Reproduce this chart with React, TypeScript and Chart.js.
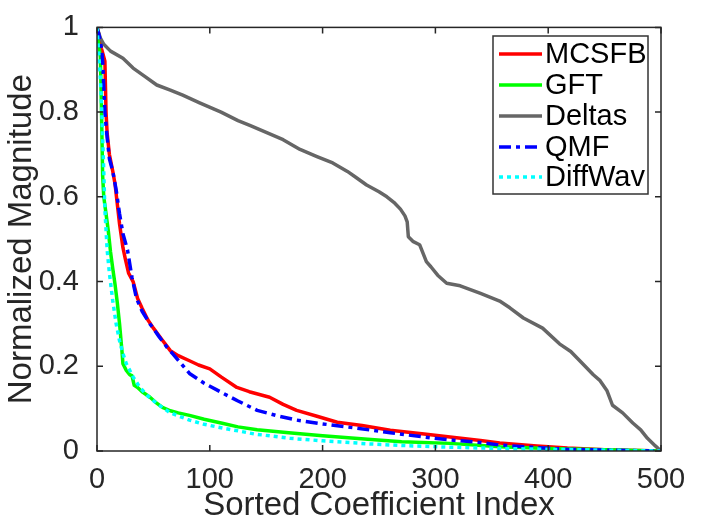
import React, { useEffect, useRef } from "react";
import { Chart, registerables } from "chart.js";

Chart.register(...registerables);

// ---- Data ----
const seriesNames = ["MCSFB", "GFT", "Deltas", "QMF", "DiffWav"];

const mcsfbX = [0, 2, 4, 6, 7, 8, 9, 11, 14, 16, 20, 23, 25, 28, 32, 36, 40, 45, 50, 57, 65, 72, 82, 90, 100, 110, 124, 135, 153, 165, 177, 195, 213, 235, 260, 290, 313, 340, 357, 390, 417, 450, 480, 500];
const mcsfbY = [1, 0.98, 0.95, 0.93, 0.92, 0.8, 0.75, 0.7, 0.66, 0.63, 0.536, 0.48, 0.455, 0.42, 0.4, 0.36, 0.337, 0.31, 0.29, 0.265, 0.237, 0.225, 0.213, 0.203, 0.194, 0.175, 0.15, 0.14, 0.127, 0.11, 0.096, 0.082, 0.068, 0.06, 0.049, 0.04, 0.033, 0.025, 0.019, 0.012, 0.007, 0.003, 0.001, 0];

const gftX = [0, 1, 2, 3, 4, 5, 6, 8, 10, 12, 14, 16, 18, 20, 22, 23, 26, 29, 31, 33, 36, 40, 47, 52, 58, 65, 72, 82, 95, 112, 125, 142, 170, 200, 240, 270, 313, 357, 400, 450, 500];
const gftY = [1, 0.97, 0.95, 0.93, 0.8, 0.65, 0.6, 0.56, 0.52, 0.47, 0.43, 0.393, 0.35, 0.3, 0.24, 0.206, 0.19, 0.18, 0.178, 0.155, 0.15, 0.14, 0.127, 0.115, 0.103, 0.095, 0.09, 0.084, 0.075, 0.065, 0.057, 0.05, 0.043, 0.036, 0.028, 0.022, 0.018, 0.01, 0.006, 0.003, 0];

const deltasX = [0, 3, 6, 12, 23, 32, 42, 53, 65, 76, 91, 110, 125, 136, 150, 165, 180, 195, 209, 222, 230, 239, 250, 257, 264, 269, 273, 275, 276, 280, 286, 292, 296, 302, 310, 322, 340, 357, 366, 378, 395, 410, 420, 428, 440, 446, 452, 457, 466, 475, 482, 488, 495, 500];
const deltasY = [1, 0.975, 0.96, 0.944, 0.927, 0.904, 0.885, 0.864, 0.852, 0.84, 0.822, 0.8, 0.78, 0.768, 0.752, 0.735, 0.712, 0.695, 0.68, 0.66, 0.645, 0.628, 0.612, 0.6, 0.585, 0.571, 0.555, 0.541, 0.506, 0.495, 0.487, 0.447, 0.435, 0.415, 0.396, 0.39, 0.372, 0.354, 0.338, 0.314, 0.29, 0.253, 0.235, 0.213, 0.18, 0.166, 0.143, 0.108, 0.09, 0.066, 0.05, 0.03, 0.012, 0];

const qmfX = [0, 2, 4, 5, 7, 9, 11, 14, 17, 20, 23, 27, 31, 35, 40, 47, 55, 62, 67, 75, 82, 95, 112, 125, 142, 160, 177, 200, 230, 260, 290, 313, 340, 357, 390, 417, 450, 500];
const qmfY = [1, 0.98, 0.95, 0.92, 0.8, 0.74, 0.69, 0.66, 0.616, 0.56, 0.513, 0.475, 0.41, 0.36, 0.33, 0.3, 0.27, 0.245, 0.23, 0.205, 0.183, 0.16, 0.136, 0.118, 0.096, 0.083, 0.073, 0.064, 0.054, 0.043, 0.033, 0.026, 0.02, 0.014, 0.008, 0.004, 0.002, 0];

const diffWavX = [0, 1, 2, 3, 4, 5, 6, 7, 9, 11, 14, 17, 20, 23, 26, 32, 38, 45, 53, 65, 82, 95, 112, 140, 171, 200, 240, 270, 313, 357, 400, 450, 500];
const diffWavY = [1, 0.96, 0.92, 0.88, 0.82, 0.74, 0.66, 0.57, 0.475, 0.42, 0.354, 0.3, 0.26, 0.23, 0.206, 0.175, 0.15, 0.13, 0.112, 0.09, 0.073, 0.063, 0.054, 0.04, 0.03, 0.024, 0.017, 0.013, 0.009, 0.006, 0.004, 0.002, 0];

const xTicks = [0, 100, 200, 300, 400, 500];
const yTicks = [0, 0.2, 0.4, 0.6, 0.8, 1];
const yTickLabels = ["0", "0.2", "0.4", "0.6", "0.8", "1"];
const xTickLabels = ["0", "100", "200", "300", "400", "500"];

const FONT = "'Liberation Sans', Arial, Helvetica, sans-serif";
const AXIS_COLOR = "#262626";

function pts(xs: number[], ys: number[]) {
  return xs.map((x, i) => ({ x, y: ys[i] }));
}

const boxPlugin = {
  id: "matlabBox",
  afterDatasetsDraw(chart: any) {
    const { ctx, chartArea } = chart;
    const { left, right, top, bottom } = chartArea;
    const xs = chart.scales.x;
    const ys = chart.scales.y;
    ctx.save();
    ctx.strokeStyle = AXIS_COLOR;
    ctx.lineWidth = 1.5;
    ctx.strokeRect(left, top, right - left, bottom - top);
    const tl = 6;
    ctx.beginPath();
    xTicks.forEach((v) => {
      const px = xs.getPixelForValue(v);
      ctx.moveTo(px, bottom);
      ctx.lineTo(px, bottom - tl);
      ctx.moveTo(px, top);
      ctx.lineTo(px, top + tl);
    });
    yTicks.forEach((v) => {
      const py = ys.getPixelForValue(v);
      ctx.moveTo(left, py);
      ctx.lineTo(left + tl, py);
      ctx.moveTo(right, py);
      ctx.lineTo(right - tl, py);
    });
    ctx.stroke();

    // legend
    const bx = 493, by = 36, bw = 155, bh = 158;
    ctx.fillStyle = "#ffffff";
    ctx.fillRect(bx, by, bw, bh);
    ctx.strokeStyle = "#333333";
    ctx.lineWidth = 1.5;
    ctx.strokeRect(bx, by, bw, bh);
    const rowY = [54, 85, 116, 147, 177];
    chart.data.datasets.forEach((ds: any, i: number) => {
      const y = rowY[i];
      ctx.save();
      ctx.strokeStyle = ds.borderColor;
      ctx.lineWidth = ds.borderWidth;
      ctx.setLineDash(ds.borderDash || []);
      ctx.lineCap = "butt";
      ctx.beginPath();
      ctx.moveTo(499, y);
      ctx.lineTo(542, y);
      ctx.stroke();
      ctx.restore();
      ctx.fillStyle = "#000000";
      ctx.font = `29px ${FONT}`;
      ctx.textBaseline = "middle";
      ctx.textAlign = "left";
      ctx.fillText(ds.label, 545, y + 1);
    });
    ctx.restore();
  },
};

export default function App() {
  const ref = useRef<HTMLCanvasElement | null>(null);
  useEffect(() => {
    document.body.style.margin = "0";
    const canvas = ref.current;
    if (!canvas) return;
    const mk = (i: number, xs: number[], ys: number[], color: string, dash: number[], order: number) => ({
      label: seriesNames[i],
      data: pts(xs, ys),
      borderColor: color,
      backgroundColor: color,
      borderWidth: 3.5,
      borderDash: dash,
      borderCapStyle: "butt",
      borderJoinStyle: "round",
      pointRadius: 0,
      tension: 0,
      fill: false,
      order,
    });
    const chart = new Chart(canvas, {
      type: "line",
      data: {
        datasets: [
          mk(0, mcsfbX, mcsfbY, "#ff0000", [], 5),
          mk(1, gftX, gftY, "#00ff00", [], 4),
          mk(2, deltasX, deltasY, "#666666", [], 3),
          mk(3, qmfX, qmfY, "#0000ff", [12, 5, 4, 5], 2),
          mk(4, diffWavX, diffWavY, "#00ffff", [4, 4], 1),
        ] as any,
      },
      options: {
        animation: false,
        responsive: false,
        maintainAspectRatio: false,
        layout: { padding: { left: 0, top: 24, right: 53, bottom: 0 } },
        plugins: { legend: { display: false }, tooltip: { enabled: false } },
        scales: {
          x: {
            type: "linear",
            min: 0,
            max: 500,
            afterFit: (s: any) => { s.height = 79; },
            afterBuildTicks: (s: any) => { s.ticks = xTicks.map((v) => ({ value: v })); },
            grid: { display: false },
            border: { display: false },
            ticks: {
              color: AXIS_COLOR,
              font: { family: FONT, size: 29 },
              padding: 4,
              maxRotation: 0,
              callback: (v: any) => { const i = xTicks.indexOf(Number(v)); return i >= 0 ? xTickLabels[i] : ""; },
            },
            title: {
              display: true,
              text: "Sorted Coefficient Index",
              color: AXIS_COLOR,
              font: { family: FONT, size: 33 },
              padding: { top: 0, bottom: 4 },
            },
          },
          y: {
            type: "linear",
            min: 0,
            max: 1,
            afterFit: (s: any) => { s.width = 97; },
            afterBuildTicks: (s: any) => { s.ticks = yTicks.map((v) => ({ value: v })); },
            grid: { display: false },
            border: { display: false },
            ticks: {
              color: AXIS_COLOR,
              font: { family: FONT, size: 29 },
              padding: 10,
              callback: (v: any) => { const i = yTicks.findIndex((t) => Math.abs(t - Number(v)) < 1e-9); return i >= 0 ? yTickLabels[i] : ""; },
            },
            title: {
              display: true,
              text: "Normalized Magnitude",
              color: AXIS_COLOR,
              font: { family: FONT, size: 33 },
              padding: { top: 2, bottom: 0 },
            },
          },
        },
      },
      plugins: [boxPlugin],
    });
    return () => chart.destroy();
  }, []);
  return (
    <div style={{ width: 714, height: 530, background: "#fff" }}>
      <canvas ref={ref} width={714} height={530} style={{ width: 714, height: 530, display: "block" }} />
    </div>
  );
}
